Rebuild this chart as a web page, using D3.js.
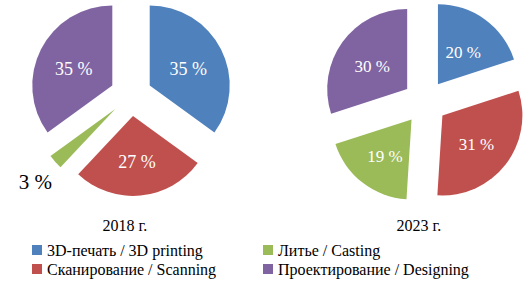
<!DOCTYPE html>
<html><head><meta charset="utf-8">
<script src="https://cdn.jsdelivr.net/npm/d3@7"></script>
<style>body{margin:0;background:#fff}svg{display:block}</style>
</head><body>
<script>
const categories = ["3D-печать / 3D printing","Сканирование / Scanning","Литье / Casting","Проектирование / Designing"];
const colors = ["#4F81BD","#C0504D","#9BBB59","#8064A2"];
const years = ["2018 г.","2023 г."];
const values2018 = [35,27,3,35];
const values2023 = [20,31,19,30];

const W=532,H=281;
const svg=d3.select("body").append("svg").attr("width",W).attr("height",H);
const font="'Liberation Serif','Times New Roman',serif";
const pies=[{cx:131,cy:95,d:21,vals:values2018,title:years[0],tx:125,fs:18,lr:0.54},{cx:425,cy:102,d:22,vals:values2023,title:years[1],tx:419,fs:17,lr:0.54}];
const R=80;
const pie=d3.pie().sort(null).value(d=>d);
const arc=d3.arc().innerRadius(0).outerRadius(R);
pies.forEach(p=>{
  const g=svg.append("g").attr("transform",`translate(${p.cx},${p.cy})`);
  const arcs=pie(p.vals);
  arcs.forEach((a,i)=>{
    const m=(a.startAngle+a.endAngle)/2;
    const ox=Math.sin(m)*p.d, oy=-Math.cos(m)*p.d;
    g.append("path").attr("d",arc(a)).attr("fill",colors[i]).attr("transform",`translate(${ox},${oy})`);
    const small=a.data<5;
    const lr=small?R*1.33:R*p.lr;
    g.append("text").attr("x",ox+Math.sin(m)*lr).attr("y",oy-Math.cos(m)*lr+3)
      .attr("text-anchor","middle").attr("dominant-baseline","central")
      .attr("font-family",font).attr("font-size",small?21:p.fs)
      .attr("fill",small?"#000":"#fff").text(a.data+" %");
  });
  svg.append("text").attr("x",p.tx).attr("y",225).attr("text-anchor","middle").attr("dominant-baseline","central")
    .attr("font-family",font).attr("font-size",16).attr("fill","#000").text(p.title);
});
const legPos=[[32,250],[32,269],[263,250],[263,269]];
categories.forEach((c,i)=>{
  const [x,y]=legPos[i];
  svg.append("rect").attr("x",x).attr("y",y-5).attr("width",10).attr("height",10).attr("fill",colors[i]);
  svg.append("text").attr("x",x+15).attr("y",y).attr("dominant-baseline","central")
    .attr("font-family",font).attr("font-size",16).attr("fill","#000").text(c);
});
</script>
</body></html>
